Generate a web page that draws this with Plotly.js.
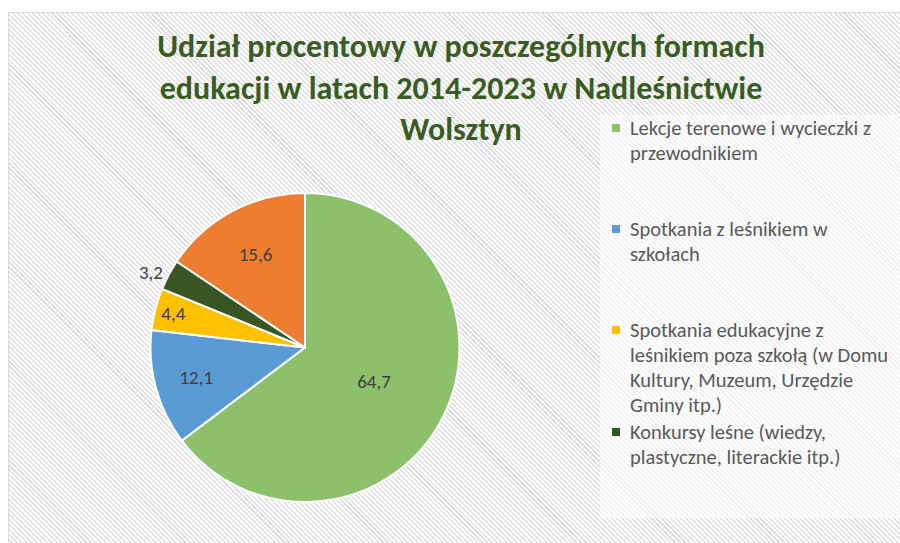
<!DOCTYPE html>
<html>
<head>
<meta charset="utf-8">
<script src="https://cdn.plot.ly/plotly-3.0.1.min.js"></script>
<style>
  html, body { margin: 0; padding: 0; background: #ffffff; }
  #wrap { position: relative; width: 900px; height: 543px; overflow: hidden; }
  #frame { position: absolute; left: 8px; top: 12px; width: 900px; height: 540px;
    border: 1px solid #d9d9d9;
    background: repeating-linear-gradient(45deg, #ffffff 0px, #ffffff 2px, #e0e0e0 2px, #e0e0e0 3.5px); }
  #chart { position: absolute; left: 0; top: 0; width: 900px; height: 543px; }
</style>
</head>
<body>
<div id="wrap">
  <div id="frame"></div>
  <div id="chart"></div>
</div>
<script>
const categories = [
  "Lekcje terenowe i wycieczki z przewodnikiem",
  "Spotkania z leśnikiem w szkołach",
  "Spotkania edukacyjne z leśnikiem poza szkołą (w Domu Kultury, Muzeum, Urzędzie Gminy itp.)",
  "Konkursy leśne (wiedzy, plastyczne, literackie itp.)",
  "Inne"
];
const values = [64.7, 12.1, 4.4, 3.2, 15.6];
const sliceColors = ["#8cc06b", "#5b9bd5", "#ffc000", "#375623", "#ed7d31"];
const legendLines = [
  ["Lekcje terenowe i wycieczki z", "przewodnikiem"],
  ["Spotkania z leśnikiem w", "szkołach"],
  ["Spotkania edukacyjne z", "leśnikiem poza szkołą (w Domu", "Kultury, Muzeum, Urzędzie", "Gminy itp.)"],
  ["Konkursy leśne (wiedzy,", "plastyczne, literackie itp.)"]
];
const legendTops = [128, 229, 330, 432];
const titleText = "Udział procentowy w poszczególnych formach<br>edukacji w latach 2014-2023 w Nadleśnictwie<br>Wolsztyn";

const FONT = "Carlito, Lato, 'Open Sans', sans-serif";
const W = 900, H = 543;
const labelsText = values.map(v => v.toFixed(1).replace(".", ","));

const trace = {
  type: "pie",
  labels: categories,
  values: values,
  text: labelsText,
  textinfo: "text",
  hoverinfo: "label+text",
  sort: false,
  direction: "clockwise",
  rotation: 0,
  marker: { colors: sliceColors, line: { color: "#ffffff", width: 2 } },
  textposition: ["inside", "inside", "inside", "outside", "inside"],
  insidetextorientation: "horizontal",
  textfont: { family: FONT, size: 19, color: "#404040" },
  insidetextfont: { family: FONT, size: 19, color: "#404040" },
  outsidetextfont: { family: FONT, size: 19, color: "#404040" },
  automargin: false,
  showlegend: false,
  domain: { x: [150 / W, 460 / W], y: [1 - 502 / H, 1 - 193 / H] }
};

const annotations = [];
const shapes = [
  { type: "rect", xref: "paper", yref: "paper", x0: 600 / W, x1: 1, y0: 1 - 518 / H, y1: 1 - 115 / H,
    fillcolor: "rgba(255,255,255,0.55)", line: { width: 0 }, layer: "below" }
];
const lineH = 25;
legendLines.forEach((lines, i) => {
  lines.forEach((t, j) => {
    const yc = legendTops[i] + j * lineH;
    annotations.push({
      xref: "paper", yref: "paper", x: 628 / W, y: 1 - yc / H,
      xanchor: "left", yanchor: "middle", showarrow: false,
      text: t, font: { family: FONT, size: 20.5, color: "#595959" }
    });
  });
  const yc = legendTops[i];
  shapes.push({
    type: "rect", xref: "paper", yref: "paper",
    x0: 612 / W, x1: 620 / W, y0: 1 - (yc + 4) / H, y1: 1 - (yc - 4) / H,
    fillcolor: sliceColors[i], line: { width: 0 }
  });
});

const layout = {
  width: W, height: H,
  margin: { l: 0, r: 0, t: 0, b: 0 },
  paper_bgcolor: "rgba(0,0,0,0)",
  plot_bgcolor: "rgba(0,0,0,0)",
  title: {
    text: titleText,
    x: 461 / W, xanchor: "center",
    y: 1 - 57 / H, yanchor: "middle",
    font: { family: FONT, size: 32, color: "#3a5c24", weight: "bold" }
  },
  annotations: annotations,
  shapes: shapes
};

Plotly.newPlot("chart", [trace], layout, { displayModeBar: false, staticPlot: true });
</script>
</body>
</html>
